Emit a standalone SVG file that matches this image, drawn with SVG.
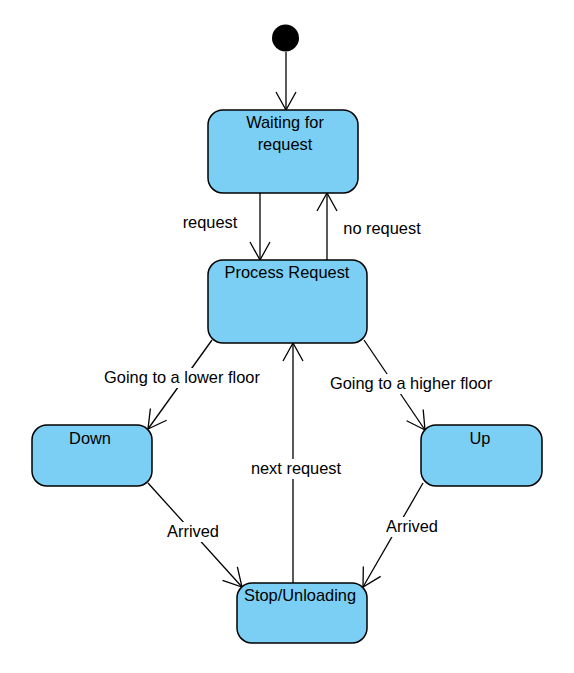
<svg xmlns="http://www.w3.org/2000/svg" width="574" height="673" viewBox="0 0 574 673">
  <style>
    .state { fill: #7BCFF4; stroke: #000; stroke-width: 1.5; }
    .name { font-family: "Liberation Sans", Arial, sans-serif; font-size: 16.4px; fill: #000; text-anchor: middle; }
    .edge { fill: none; stroke: #000; stroke-width: 1.3; marker-end: url(#open); }
    .label { font-family: "Liberation Sans", Arial, sans-serif; font-size: 16.4px; fill: #000; text-anchor: middle; }
    .bg { fill: #fff; }
  </style>
  <defs>
    <marker id="open" markerUnits="userSpaceOnUse" markerWidth="20" markerHeight="22" viewBox="0 0 20 22" refX="19" refY="11" orient="auto">
      <path d="M1,1 L19,11 L1,21" fill="none" stroke="#000" stroke-width="1.3"/>
    </marker>
  </defs>
  <rect width="574" height="673" fill="#fff"/>

  <g id="connectors">
    <line class="edge" x1="286" y1="52" x2="286" y2="110"/>
    <line class="edge" x1="260" y1="193" x2="260" y2="260"/>
    <line class="edge" x1="327" y1="260" x2="327" y2="193"/>
    <line class="edge" x1="212" y1="340" x2="148" y2="429"/>
    <line class="edge" x1="364" y1="340" x2="425" y2="430"/>
    <line class="edge" x1="148" y1="483" x2="242" y2="587"/>
    <line class="edge" x1="423" y1="483" x2="363" y2="587"/>
    <line class="edge" x1="293" y1="583" x2="293" y2="343"/>

    <text class="label" x="210" y="228">request</text>
    <text class="label" x="382" y="234">no request</text>
    <rect class="bg" x="100" y="368" width="164" height="20"/>
    <text class="label" x="182" y="383">Going to a lower floor</text>
    <rect class="bg" x="326" y="374" width="170" height="20"/>
    <text class="label" x="411" y="389">Going to a higher floor</text>
    <rect class="bg" x="248" y="459" width="96" height="20"/>
    <text class="label" x="296" y="474">next request</text>
    <rect class="bg" x="165" y="522" width="56" height="20"/>
    <text class="label" x="193" y="537">Arrived</text>
    <rect class="bg" x="384" y="517" width="56" height="20"/>
    <text class="label" x="412" y="532">Arrived</text>
  </g>

  <g id="initial">
    <circle cx="285.5" cy="38" r="13.5" fill="#000"/>
  </g>
  <g id="waiting">
    <rect class="state" x="208" y="110" width="150" height="83" rx="15"/>
    <text class="name" x="285" y="128">Waiting for</text>
    <text class="name" x="285" y="150">request</text>
  </g>
  <g id="process">
    <rect class="state" x="208" y="260" width="159" height="83" rx="15"/>
    <text class="name" x="287" y="278">Process Request</text>
  </g>
  <g id="down">
    <rect class="state" x="32" y="425" width="120" height="61" rx="15"/>
    <text class="name" x="90" y="444">Down</text>
  </g>
  <g id="up">
    <rect class="state" x="421" y="425" width="121" height="61" rx="15"/>
    <text class="name" x="480" y="444">Up</text>
  </g>
  <g id="stop">
    <rect class="state" x="237" y="583" width="130" height="60" rx="15"/>
    <text class="name" x="300" y="601">Stop/Unloading</text>
  </g>
</svg>
